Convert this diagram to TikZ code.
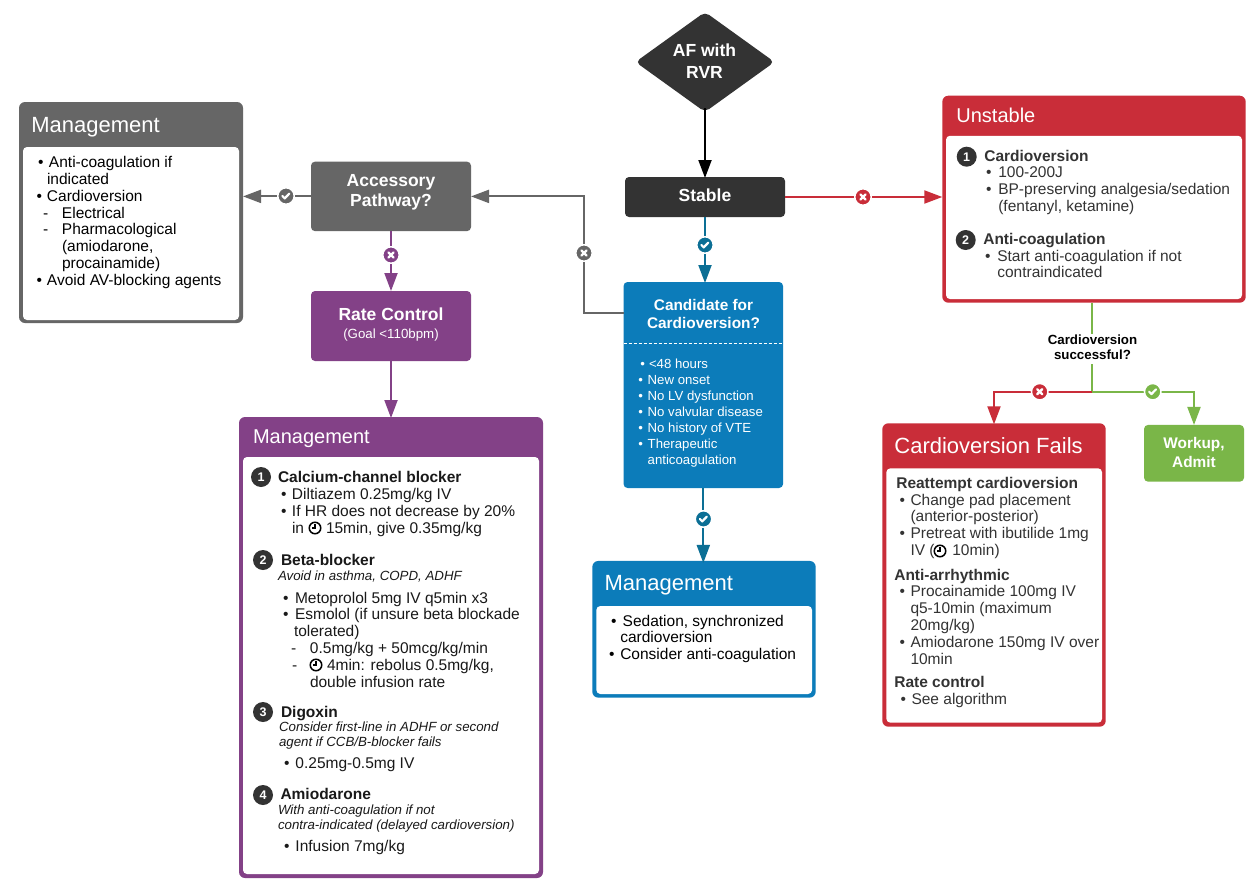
\documentclass[tikz,border=0pt]{standalone}
\usepackage{fontspec}
\setmainfont{Liberation Sans}
\usetikzlibrary{arrows.meta,shapes.geometric}
\definecolor{cred}{HTML}{C92D39}
\definecolor{cgreen}{HTML}{7AB648}
\definecolor{cpurple}{HTML}{834187}
\definecolor{cblue}{HTML}{0C7CBA}
\definecolor{cteal}{HTML}{0C6F95}
\definecolor{cgray}{HTML}{666666}
\definecolor{cdark}{HTML}{333333}
\colorlet{panelink}{black}
\newcounter{tcnt}
\newcommand{\tx}[4][body]{\stepcounter{tcnt}\node[#1] (t\arabic{tcnt}) at (#2,#3) {#4};}
% bullet x, text x, baseline y, mark, text
\newcommand{\lineitem}[5]{\stepcounter{tcnt}\node[body] (t\arabic{tcnt}) at (#1-1,#3) {\hbox to \dimexpr #2pt-#1pt+1pt\relax{#4\hfil}#5};}
\newcommand{\bl}[4]{\lineitem{#1}{#2}{#3}{•}{#4}}
\newcommand{\dl}[4]{\lineitem{#1}{#2}{#3}{-}{#4}}
\tikzset{
  every node/.style={inner sep=0pt,outer sep=0pt},
  body/.style={anchor=base west,font=\fontsize{15.5}{17}\selectfont,text=panelink},
  head/.style={anchor=base west,font=\fontsize{15.5}{17}\bfseries\selectfont,text=panelink},
  note/.style={anchor=base west,font=\fontsize{13.3}{15}\itshape\selectfont,text=panelink},
  ptitle/.style={anchor=base west,font=\fontsize{#1}{24}\selectfont,text=white},
  btitle/.style={anchor=base,font=\fontsize{#1}{20}\bfseries\selectfont,text=white},
  bsub/.style={anchor=base,font=\fontsize{13.3}{15}\selectfont,text=white},
  bitem/.style={anchor=base west,font=\fontsize{13.2}{16}\selectfont,text=white},
  flow/.style={rectangle,rounded corners=4pt,fill=#1},
  panel/.style={rectangle,rounded corners=6pt,fill=#1},
  well/.style={rectangle,rounded corners=4pt,fill=white},
  conn/.style={line width=2pt,draw=#1,-{Triangle[length=18pt,width=13pt,fill=#1]}},
  plain/.style={line width=2pt,draw=#1},
  badge/.style={circle,fill=cdark,minimum size=20pt,text=white,font=\fontsize{12.5}{13}\bfseries\selectfont},
  yes/.style={circle,fill=#1,draw=white,line width=1.5pt,minimum size=16.5pt,path picture={
    \draw[white,line width=2.2pt,line cap=round,line join=round] ([shift={(-3.6pt,0pt)}]path picture bounding box.center) -- ++(2.3pt,-2.4pt) -- ++(4.6pt,4.8pt);}},
  no/.style={circle,fill=#1,draw=white,line width=1.5pt,minimum size=16.5pt,path picture={
    \draw[white,line width=2.4pt,line cap=round] ([shift={(-2.6pt,-2.6pt)}]path picture bounding box.center) -- ++(5.2pt,5.2pt);
    \draw[white,line width=2.4pt,line cap=round] ([shift={(-2.6pt,2.6pt)}]path picture bounding box.center) -- ++(5.2pt,-5.2pt);}},
  clock/.style={circle,draw=black,line width=1.5pt,minimum size=11.5pt,path picture={
    \draw[black,line width=1.1pt] ([shift={(0pt,3.6pt)}]path picture bounding box.center) -- (path picture bounding box.center) -- ++(-3pt,0pt);}},
}
\begin{document}
\begin{tikzpicture}[x=1pt,y=-1pt]
\path[use as bounding box,fill=white] (0,0) rectangle (1258,891);

% ---- flow boxes
\node[diamond,fill=cdark,rounded corners=5pt,minimum width=139pt,minimum height=100pt,aspect=1.4] (af) at (705,62) {};
\node[flow=cdark,minimum width=160pt,minimum height=40pt] (stable) at (705,197) {};
\node[flow=cgray,minimum width=160pt,minimum height=69.5pt] (acc) at (391,196.4) {};
\node[flow=cpurple,minimum width=160pt,minimum height=70pt] (rate) at (391,326) {};
\node[flow=cblue,minimum width=159.5pt,minimum height=206pt] (cand) at (703.3,385) {};
\node[flow=cgreen,minimum width=100pt,minimum height=56.7pt] (workup) at (1194,453.3) {};

% ---- panels
\node[panel=cgray,minimum width=224pt,minimum height=221pt] (mgGray) at (131,212.5) {};
\node[well,minimum width=216pt,minimum height=173pt] (mgGrayW) at (131,233.5) {};
\node[panel=cpurple,minimum width=304pt,minimum height=461pt] (mgPurple) at (391,647.5) {};
\node[well,minimum width=296pt,minimum height=417pt] (mgPurpleW) at (391,665.5) {};
\node[panel=cblue,minimum width=223.4pt,minimum height=136.7pt] (mgBlue) at (704,629.3) {};
\node[well,minimum width=215.7pt,minimum height=88pt] (mgBlueW) at (704.2,650) {};
\node[panel=cred,minimum width=303.4pt,minimum height=207pt] (unst) at (1094,199.2) {};
\node[well,minimum width=296pt,minimum height=163.3pt] (unstW) at (1094,217.4) {};
\node[panel=cred,minimum width=223.4pt,minimum height=303.4pt] (fails) at (994,575) {};
\node[well,minimum width=215.7pt,minimum height=254.4pt] (failsW) at (994.2,595.5) {};

% ---- connectors
\coordinate (candL) at (623.5,312.5);
\coordinate (gturn) at (584,312.5);
\coordinate (qTop) at (1092,334);
\coordinate (qBot) at (1092,364);
\coordinate (qJoin) at (1092,391.7);
\draw[conn=black] ([yshift=4pt]af.south) -- ([yshift=-1pt]stable.north);
\draw[conn=cred] (stable.east) -- (unst.west |- stable.east);
\draw[conn=cteal] (stable.south) -- ([yshift=-1pt]stable.south |- cand.north);
\draw[conn=cteal] (cand.south) -- ([yshift=-2pt]cand.south |- mgBlue.north);
\draw[conn=cgray] (candL) -- (gturn) |- (acc.east);
\draw[conn=cgray] (acc.west) -- (mgGray.east |- acc.west);
\draw[conn=cpurple] (acc.south) -- (rate.north);
\draw[conn=cpurple] (rate.south) -- ([yshift=-1pt]mgPurple.north);
\draw[plain=cgreen] (unst.south -| qTop) -- (qTop);
\draw[plain=cgreen] (qBot) -- (qJoin);
\draw[conn=cred] (qJoin) -| ([yshift=-1pt]994,423.3);
\draw[conn=cgreen] (qJoin) -| (workup.north);

% ---- connector icons
\node[no=cred] (i1) at (863,197) {};
\node[yes=cteal] (i2) at (705,245) {};
\node[no=cgray] (i3) at (584,253) {};
\node[yes=cgray] (i4) at (286,196) {};
\node[no=cpurple] (i5) at (391,255) {};
\node[yes=cteal] (i6) at (703.5,519) {};
\node[no=cred] (i7) at (1039.7,391.7) {};
\node[yes=cgreen] (i8) at (1152.7,391.7) {};

% ---- flow text
\tx[btitle=17.5]{704.5}{56.6}{AF with}
\tx[btitle=17.5]{704.5}{78}{RVR}
\tx[btitle=17.5]{705}{201.7}{Stable}
\tx[btitle=17.5]{391}{186}{Accessory}
\tx[btitle=17.5]{391}{206.7}{Pathway?}
\tx[btitle=17.5]{391}{320.7}{Rate Control}
\tx[bsub]{391}{338}{(Goal <110bpm)}
\tx[btitle=15.4]{703.5}{310}{Candidate for}
\tx[btitle=15.4]{703.5}{328.5}{Cardioversion?}
\tx[btitle=15.4]{1194}{448.6}{Workup,}
\tx[btitle=15.4]{1194}{467.2}{Admit}
\tx[anchor=base,font=\fontsize{13.3}{15}\bfseries\selectfont,text=black]{1092.5}{344}{Cardioversion}
\tx[anchor=base,font=\fontsize{13.3}{15}\bfseries\selectfont,text=black]{1092.5}{359}{successful?}

% ---- candidate list
\draw[white,line width=1pt,dash pattern=on 3pt off 2pt] (cand.west |- 0,343) -- (cand.east |- 0,343);
\newcommand{\cb}[4]{\stepcounter{tcnt}\node[bitem] (t\arabic{tcnt}) at (#1-.6,#3) {\hbox to \dimexpr #2pt-#1pt+.6pt\relax{•\hfil}#4};}
\cb{641}{649}{368.4}{<48 hours}
\cb{639}{647.7}{384.4}{New onset}
\cb{639}{647.7}{400.4}{No LV dysfunction}
\cb{639}{647.7}{416.4}{No valvular disease}
\cb{639}{647.7}{432.4}{No history of VTE}
\cb{639}{647.7}{448.4}{Therapeutic}
\tx[bitem]{647.7}{464.4}{anticoagulation}

% ---- gray management
\tx[ptitle=22]{31.4}{132}{Management}
\bl{39}{49}{167}{Anti-coagulation if}
\tx{47}{184}{indicated}
\bl{37.5}{47}{201}{Cardioversion}
\dl{44}{62}{218}{Electrical}
\dl{44}{62}{234.5}{Pharmacological}
\tx{62}{251.5}{(amiodarone,}
\tx{62}{268}{procainamide)}
\bl{37.5}{47}{285}{Avoid AV-blocking agents}

% ---- purple management
\colorlet{panelink}{black!90}
\tx[ptitle=20]{253}{443.7}{Management}
\node[badge] (n1) at (261,477) {1};
\tx[head]{278}{482}{Calcium-channel blocker}
\bl{282}{292}{499}{Diltiazem 0.25mg/kg IV}
\bl{282}{292}{516}{If HR does not decrease by 20\%}
\tx{292}{533}{in}
\node[clock] (k1) at (315,528) {};
\tx{326}{533}{15min, give 0.35mg/kg}
\node[badge] (n2) at (263,560) {2};
\tx[head]{281}{565}{Beta-blocker}
\tx[note]{278}{580}{Avoid in asthma, COPD, ADHF}
\bl{284}{295}{603}{Metoprolol 5mg IV q5min x3}
\bl{284}{295}{619.5}{Esmolol (if unsure beta blockade}
\tx{294}{636}{tolerated)}
\dl{292}{310}{653.4}{0.5mg/kg + 50mcg/kg/min}
\tx{292}{670.7}{-}
\node[clock] (k2) at (316,665) {};
\tx{327}{670.7}{4min: rebolus 0.5mg/kg,}
\tx{310}{687.4}{double infusion rate}
\node[badge] (n3) at (263,712) {3};
\tx[head]{281}{717}{Digoxin}
\tx[note]{279}{731}{Consider first-line in ADHF or second}
\tx[note]{279}{746}{agent if CCB/B-blocker fails}
\bl{285}{295.5}{768}{0.25mg-0.5mg IV}
\node[badge] (n4) at (263,795) {4};
\tx[head]{280.5}{799.5}{Amiodarone}
\tx[note]{278}{814}{With anti-coagulation if not}
\tx[note]{278}{829}{contra-indicated (delayed cardioversion)}
\bl{285}{295.5}{851}{Infusion 7mg/kg}

% ---- blue management
\colorlet{panelink}{black}
\tx[ptitle=22]{604.6}{590}{Management}
\bl{612}{622.7}{626}{Sedation, synchronized}
\tx{620.3}{642.7}{cardioversion}
\bl{610}{620.3}{659.3}{Consider anti-coagulation}

% ---- unstable
\colorlet{panelink}{cdark}
\tx[ptitle=20]{956.4}{122.4}{Unstable}
\node[badge] (n5) at (966.7,156.7) {1};
\tx[head]{984.3}{161}{Cardioversion}
\bl{987}{998.3}{177.9}{100-200J}
\bl{987}{998.3}{194.9}{BP-preserving analgesia/sedation}
\tx{998.3}{211.7}{(fentanyl, ketamine)}
\node[badge] (n6) at (965.7,240) {2};
\tx[head]{983.3}{244.3}{Anti-coagulation}
\bl{986}{997.3}{261}{Start anti-coagulation if not}
\tx{997.3}{277.5}{contraindicated}

% ---- cardioversion fails
\tx[ptitle=22]{894.4}{453}{Cardioversion Fails}
\tx[head]{896.3}{488}{Reattempt cardioversion}
\bl{900.5}{910.5}{505}{Change pad placement}
\tx{910.5}{521.7}{(anterior-posterior)}
\bl{900.5}{910.5}{538.3}{Pretreat with ibutilide 1mg}
\tx{910.5}{555.7}{IV (}
\node[clock] (k3) at (940,551) {};
\tx{952.3}{555.7}{10min)}
\tx[head]{894.3}{580}{Anti-arrhythmic}
\bl{900.5}{910.5}{596.7}{Procainamide 100mg IV}
\tx{910.5}{613.3}{q5-10min (maximum}
\tx{910.5}{630.7}{20mg/kg)}
\bl{900.5}{910.5}{647}{Amiodarone 150mg IV over}
\tx{910.5}{664}{10min}
\tx[head]{894.3}{687.7}{Rate control}
\bl{901.5}{911.5}{704.5}{See algorithm}
\end{tikzpicture}
\end{document}
